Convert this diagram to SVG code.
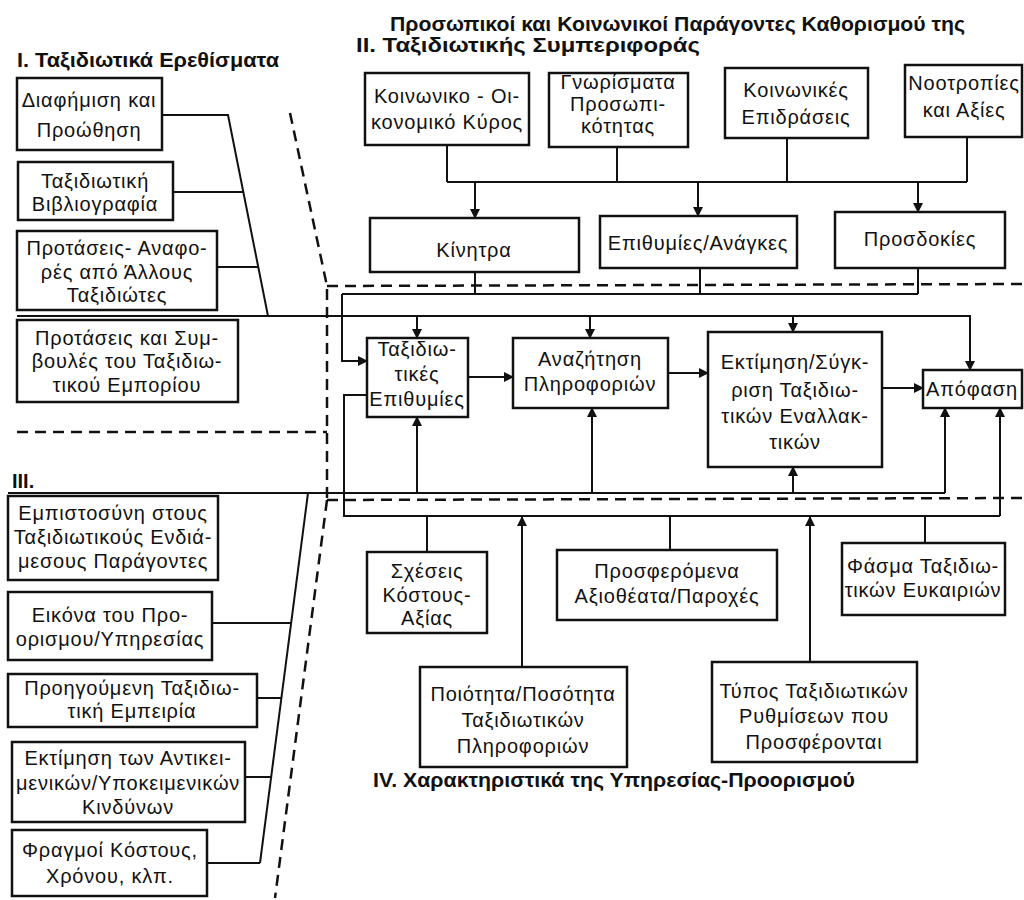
<svg xmlns="http://www.w3.org/2000/svg" width="1024" height="900" viewBox="0 0 1024 900">
<defs>
<marker id="ah" viewBox="0 0 10 10" refX="9" refY="5" markerWidth="10" markerHeight="10" markerUnits="userSpaceOnUse" orient="auto">
<path d="M0,0 L10,5 L0,10 z" fill="#111"/>
</marker>
<style>
.b{fill:#fff;stroke:#111;stroke-width:2.5}
.t{font-family:"Liberation Sans","DejaVu Sans",sans-serif;font-size:20px;letter-spacing:0.8px;fill:#111;text-anchor:middle}
.m{font-size:20px}
.h{font-family:"Liberation Sans","DejaVu Sans",sans-serif;font-weight:bold;font-size:20px;fill:#111}
.c{fill:none;stroke:#111;stroke-width:2}
.a{fill:none;stroke:#111;stroke-width:2;marker-end:url(#ah)}
.d{fill:none;stroke:#111;stroke-width:2.5;stroke-dasharray:11 7}
</style>
</defs>
<rect width="1024" height="900" fill="#fff"/>

<g id="titles">
<text class="h" x="390" y="31" textLength="575" lengthAdjust="spacingAndGlyphs">Προσωπικοί και Κοινωνικοί Παράγοντες Καθορισμού της</text>
<text class="h" x="356" y="52" textLength="344" lengthAdjust="spacingAndGlyphs">II. Ταξιδιωτικής Συμπεριφοράς</text>
<text class="h" x="17" y="67" textLength="262" lengthAdjust="spacingAndGlyphs">I. Ταξιδιωτικά Ερεθίσματα</text>
<text class="h" x="12" y="488">III.</text>
<text class="h" x="373" y="787" textLength="482" lengthAdjust="spacingAndGlyphs">IV. Χαρακτηριστικά της Υπηρεσίας-Προορισμού</text>
</g>

<g id="dashed">
<polyline class="d" points="290,113 327,286 327,500"/>
<line class="d" x1="327" y1="286" x2="1024" y2="284"/>
<line class="d" x1="17" y1="432" x2="327" y2="432"/>
<line class="d" x1="327" y1="500" x2="1024" y2="498"/>
<line class="d" x1="327" y1="500" x2="275" y2="898"/>
</g>

<g id="connectors">
<polyline class="c" points="162,115 228,115 268,316"/>
<line class="c" x1="173" y1="192" x2="243" y2="192"/>
<line class="c" x1="217" y1="267" x2="258" y2="267"/>
<polyline class="a" points="17,316 970,316 970,370"/>
<line class="a" x1="417" y1="316" x2="417" y2="338"/>
<line class="a" x1="590" y1="316" x2="590" y2="338"/>
<line class="a" x1="793" y1="316" x2="793" y2="332"/>
<line class="c" x1="447" y1="145" x2="447" y2="182"/>
<line class="c" x1="617" y1="147" x2="617" y2="182"/>
<line class="c" x1="787" y1="138" x2="787" y2="182"/>
<line class="c" x1="967" y1="137" x2="967" y2="182"/>
<line class="c" x1="447" y1="182" x2="967" y2="182"/>
<line class="a" x1="475" y1="182" x2="475" y2="218"/>
<line class="a" x1="698" y1="182" x2="698" y2="216"/>
<line class="a" x1="918" y1="182" x2="918" y2="212"/>
<line class="c" x1="475" y1="272" x2="475" y2="294"/>
<line class="c" x1="700" y1="268" x2="700" y2="294"/>
<line class="c" x1="918" y1="268" x2="918" y2="294"/>
<line class="c" x1="342" y1="294" x2="918" y2="294"/>
<polyline class="a" points="342,294 342,361 367,361"/>
<line class="a" x1="468" y1="377" x2="513" y2="377"/>
<line class="a" x1="668" y1="373" x2="708" y2="373"/>
<line class="a" x1="882" y1="388" x2="923" y2="388"/>
<line class="c" x1="8" y1="493" x2="945" y2="493"/>
<line class="a" x1="417" y1="493" x2="417" y2="417"/>
<line class="a" x1="592" y1="493" x2="592" y2="408"/>
<line class="a" x1="793" y1="493" x2="793" y2="467"/>
<line class="a" x1="945" y1="493" x2="945" y2="408"/>
<line class="c" x1="308" y1="493" x2="260" y2="863"/>
<line class="c" x1="212" y1="623" x2="291" y2="623"/>
<line class="c" x1="257" y1="698" x2="282" y2="698"/>
<line class="c" x1="245" y1="777" x2="271" y2="777"/>
<line class="c" x1="207" y1="863" x2="260" y2="863"/>
<polyline class="c" points="367,395 344,395 344,516 1000,516"/>
<polyline class="a" points="1000,516 1000,408"/>
<line class="c" x1="427" y1="552" x2="427" y2="516"/>
<line class="c" x1="670" y1="550" x2="670" y2="516"/>
<line class="c" x1="925" y1="543" x2="925" y2="516"/>
<line class="a" x1="522" y1="667" x2="522" y2="517"/>
<line class="a" x1="810" y1="662" x2="810" y2="517"/>
</g>

<g id="n_diafimisi"><rect class="b" x="17" y="78" width="145" height="72"/>
<text class="t" x="89" y="107">Διαφήμιση και</text><text class="t" x="89" y="137">Προώθηση</text></g>
<g id="n_vivliografia"><rect class="b" x="18" y="162" width="155" height="58"/>
<text class="t" x="95" y="188">Ταξιδιωτική</text><text class="t" x="95" y="211">Βιβλιογραφία</text></g>
<g id="n_protaseis_allous"><rect class="b" x="17" y="231" width="200" height="79"/>
<text class="t" x="117" y="255">Προτάσεις- Αναφο-</text><text class="t" x="117" y="279">ρές από Άλλους</text><text class="t" x="117" y="302">Ταξιδιώτες</text></g>
<g id="n_protaseis_emporiou"><rect class="b" x="17" y="320" width="221" height="82"/>
<text class="t" x="127" y="345">Προτάσεις και Συμ-</text><text class="t" x="127" y="368">βουλές του Ταξιδιω-</text><text class="t" x="127" y="392">τικού Εμπορίου</text></g>

<g id="n_kyros"><rect class="b" x="365" y="73" width="164" height="72"/>
<text class="t m" x="447" y="103">Κοινωνικο - Οι-</text><text class="t m" x="447" y="129">κονομικό Κύρος</text></g>
<g id="n_gnorismata"><rect class="b" x="549" y="73" width="139" height="74"/>
<text class="t" x="618" y="89">Γνωρίσματα</text><text class="t" x="618" y="111">Προσωπι-</text><text class="t" x="618" y="133">κότητας</text></g>
<g id="n_epidraseis"><rect class="b" x="725" y="68" width="143" height="70"/>
<text class="t m" x="796" y="97">Κοινωνικές</text><text class="t m" x="796" y="124">Επιδράσεις</text></g>
<g id="n_nootropies"><rect class="b" x="905" y="65" width="117" height="72"/>
<text class="t m" x="964" y="90">Νοοτροπίες</text><text class="t m" x="964" y="117">και Αξίες</text></g>

<g id="n_kinitra"><rect class="b" x="370" y="218" width="209" height="54"/>
<text class="t m" x="474" y="257">Κίνητρα</text></g>
<g id="n_epithymies_anagkes"><rect class="b" x="600" y="216" width="197" height="52"/>
<text class="t m" x="698" y="250">Επιθυμίες/Ανάγκες</text></g>
<g id="n_prosdokies"><rect class="b" x="835" y="212" width="170" height="56"/>
<text class="t m" x="920" y="246">Προσδοκίες</text></g>

<g id="n_epithymies"><rect class="b" x="367" y="338" width="101" height="79"/>
<text class="t m" x="417" y="356">Ταξιδιω-</text><text class="t m" x="417" y="381">τικές</text><text class="t m" x="417" y="406">Επιθυμίες</text></g>
<g id="n_anazitisi"><rect class="b" x="513" y="338" width="155" height="70"/>
<text class="t m" x="590" y="366">Αναζήτηση</text><text class="t m" x="590" y="391">Πληροφοριών</text></g>
<g id="n_ektimisi"><rect class="b" x="708" y="332" width="174" height="135"/>
<text class="t m" x="795" y="369">Εκτίμηση/Σύγκ-</text><text class="t m" x="795" y="397">ριση Ταξιδιω-</text><text class="t m" x="795" y="423">τικών Εναλλακ-</text><text class="t m" x="795" y="449">τικών</text></g>
<g id="n_apofasi"><rect class="b" x="923" y="370" width="99" height="38"/>
<text class="t m" x="972" y="396">Απόφαση</text></g>

<g id="n_empistosyni"><rect class="b" x="8" y="496" width="210" height="84"/>
<text class="t" x="113" y="520">Εμπιστοσύνη στους</text><text class="t" x="113" y="544">Ταξιδιωτικούς Ενδιά-</text><text class="t" x="113" y="568">μεσους Παράγοντες</text></g>
<g id="n_eikona"><rect class="b" x="8" y="592" width="204" height="68"/>
<text class="t" x="110" y="622">Εικόνα του Προ-</text><text class="t" x="110" y="646">ορισμου/Υπηρεσίας</text></g>
<g id="n_empeiria"><rect class="b" x="8" y="674" width="249" height="53"/>
<text class="t" x="132" y="695">Προηγούμενη Ταξιδιω-</text><text class="t" x="132" y="718">τική Εμπειρία</text></g>
<g id="n_kindynoi"><rect class="b" x="12" y="742" width="233" height="80"/>
<text class="t" x="128" y="765">Εκτίμηση των Αντικει-</text><text class="t" x="128" y="790">μενικών/Υποκειμενικών</text><text class="t" x="128" y="814">Κινδύνων</text></g>
<g id="n_fragmoi"><rect class="b" x="12" y="830" width="195" height="66"/>
<text class="t" x="110" y="857">Φραγμοί Κόστους,</text><text class="t" x="110" y="883">Χρόνου, κλπ.</text></g>

<g id="n_sxeseis"><rect class="b" x="367" y="552" width="120" height="81"/>
<text class="t" x="427" y="578">Σχέσεις</text><text class="t" x="427" y="602">Κόστους-</text><text class="t" x="427" y="625">Αξίας</text></g>
<g id="n_prosferomena"><rect class="b" x="557" y="550" width="220" height="70"/>
<text class="t" x="667" y="578">Προσφερόμενα</text><text class="t" x="667" y="603">Αξιοθέατα/Παροχές</text></g>
<g id="n_poiotita"><rect class="b" x="420" y="667" width="207" height="100"/>
<text class="t" x="523" y="701">Ποιότητα/Ποσότητα</text><text class="t" x="523" y="727">Ταξιδιωτικών</text><text class="t" x="523" y="753">Πληροφοριών</text></g>
<g id="n_fasma"><rect class="b" x="842" y="543" width="163" height="72"/>
<text class="t" x="923" y="573">Φάσμα Ταξιδιω-</text><text class="t" x="923" y="597">τικών Ευκαιριών</text></g>
<g id="n_typos"><rect class="b" x="712" y="662" width="205" height="100"/>
<text class="t" x="814" y="698">Τύπος Ταξιδιωτικών</text><text class="t" x="814" y="723">Ρυθμίσεων που</text><text class="t" x="814" y="749">Προσφέρονται</text></g>
</svg>
